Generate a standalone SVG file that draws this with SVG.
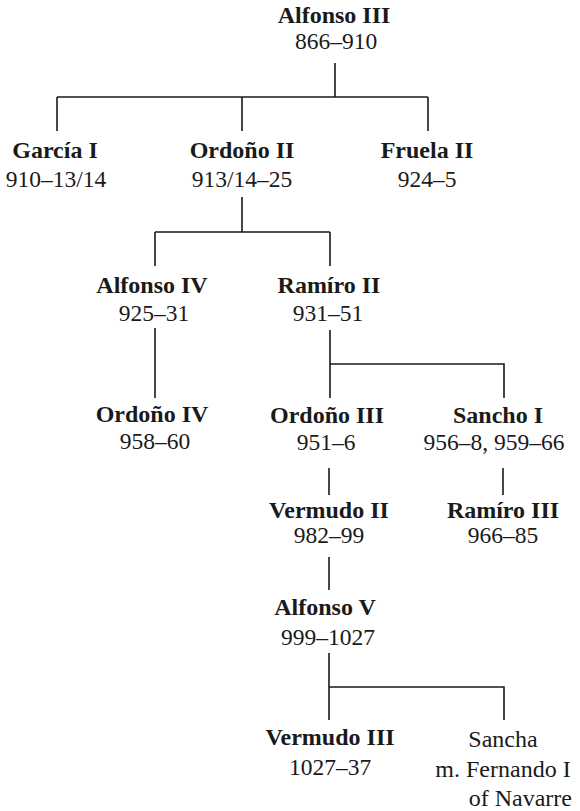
<svg xmlns="http://www.w3.org/2000/svg" width="580" height="811" viewBox="0 0 580 811">
<style>
  text { font-family: "Liberation Serif", "DejaVu Serif", serif; font-size: 24px; fill: #1a1a1a; text-anchor: middle; }
  .n { font-weight: bold; }
  .d { font-size: 23.5px; }
  .c path { fill: none; stroke: #1a1a1a; stroke-width: 1.6; }
</style>
<rect width="580" height="811" fill="#ffffff"/>
<g id="connectors" class="c">
  <path d="M335 63V97M57 97H428M57 97V131M242 97V131M428 97V131"/>
  <path d="M242 197V232M155 232H330M155 232V266M330 232V266"/>
  <path d="M155 328V398"/>
  <path d="M330 330V398M330 364H504V398"/>
  <path d="M329 468V495M503 468V495"/>
  <path d="M329 557V590"/>
  <path d="M329 653V720M329 687H504V720"/>
</g>
<g id="alfonso3"><text class="n" x="334" y="23">Alfonso III</text><text class="d" x="336" y="49">866–910</text></g>
<g id="garcia1"><text class="n" x="55" y="158">García I</text><text class="d" x="56" y="187">910–13/14</text></g>
<g id="ordono2"><text class="n" x="242" y="158">Ordoño II</text><text class="d" x="242" y="187">913/14–25</text></g>
<g id="fruela2"><text class="n" x="427" y="158">Fruela II</text><text class="d" x="427" y="187">924–5</text></g>
<g id="alfonso4"><text class="n" x="152" y="293">Alfonso IV</text><text class="d" x="154" y="321">925–31</text></g>
<g id="ramiro2"><text class="n" x="329" y="293">Ramíro II</text><text class="d" x="328" y="321">931–51</text></g>
<g id="ordono4"><text class="n" x="152" y="422">Ordoño IV</text><text class="d" x="155" y="449">958–60</text></g>
<g id="ordono3"><text class="n" x="327" y="423">Ordoño III</text><text class="d" x="326" y="450">951–6</text></g>
<g id="sancho1"><text class="n" x="498" y="423">Sancho I</text><text class="d" x="494" y="450">956–8, 959–66</text></g>
<g id="vermudo2"><text class="n" x="329" y="518">Vermudo II</text><text class="d" x="329" y="543">982–99</text></g>
<g id="ramiro3"><text class="n" x="503" y="518">Ramíro III</text><text class="d" x="503" y="543">966–85</text></g>
<g id="alfonso5"><text class="n" x="325" y="615">Alfonso V</text><text class="d" x="328" y="645">999–1027</text></g>
<g id="vermudo3"><text class="n" x="330" y="745">Vermudo III</text><text class="d" x="330" y="775">1027–37</text></g>
<g id="sancha"><text x="503" y="747">Sancha</text><text x="503" y="777">m. Fernando I</text><text x="572" y="806" style="text-anchor:end">of Navarre</text></g>
</svg>
